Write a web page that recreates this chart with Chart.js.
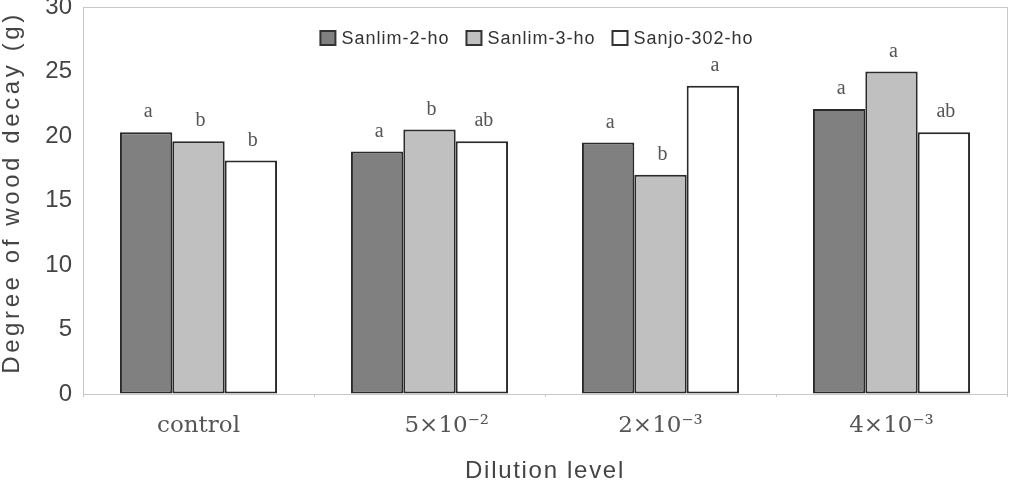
<!DOCTYPE html>
<html><head><meta charset="utf-8">
<script src="https://cdn.jsdelivr.net/npm/chart.js@4"></script>
<style>html,body{margin:0;padding:0;background:#fff}#wrap{width:1016px;height:480px}</style>
</head><body><div id="wrap"><canvas id="c" width="1016" height="480"></canvas></div>
<script>
const categories = ['control', '5×10⁻²', '2×10⁻³', '4×10⁻³'];
const seriesNames = ['Sanlim-2-ho', 'Sanlim-3-ho', 'Sanjo-302-ho'];
const sanlim2 = [20.3, 18.8, 19.5, 22.1];
const sanlim3 = [19.6, 20.5, 17.0, 25.0];
const sanjo302 = [18.1, 19.6, 23.9, 20.3];
const letters2 = ['a', 'a', 'a', 'a'];
const letters3 = ['b', 'b', 'b', 'a'];
const lettersSanjo = ['b', 'ab', 'a', 'ab'];
const yMin = 0, yMax = 30, yStep = 5;
const xTitle = 'Dilution level';
const yTitle = 'Degree of wood decay (g)';

const fills = ['#808080', '#c0c0c0', '#ffffff'];
const letterSets = [letters2, letters3, lettersSanjo];
// leading spacing to mimic the reference's off-centre tick label
const tickLead = ['', '\u2002\u2002\u2002', '', ''];

const titleStyle = { x: { ls: '1.7px', dy: 0 }, y: { ls: '3.6px', dy: -8 } };

const framePlugin = {
  id: 'frame',
  afterLayout(chart) {
    for (const id of ['x', 'y']) {
      const s = chart.scales[id];
      if (s && !s._lsWrapped) {
        const orig = s.drawTitle.bind(s);
        s.drawTitle = function () {
          const ctx = this.ctx;
          ctx.save();
          ctx.letterSpacing = titleStyle[id].ls;
          ctx.translate(0, titleStyle[id].dy);
          orig();
          ctx.restore();
        };
        s._lsWrapped = true;
      }
    }
  },
  beforeDatasetsDraw(chart) {
    const { ctx, chartArea: a } = chart;
    ctx.save();
    ctx.strokeStyle = '#c8c8c8';
    ctx.lineWidth = 1;
    ctx.strokeRect(Math.round(a.left) + 0.5, Math.round(a.top) + 0.5, Math.round(a.width), Math.round(a.height));
    ctx.restore();
  },
  afterDatasetsDraw(chart) {
    const { ctx } = chart;
    ctx.save();
    ctx.font = '20px "Liberation Serif", serif';
    ctx.fillStyle = '#555';
    ctx.textAlign = 'center';
    ctx.textBaseline = 'middle';
    chart.data.datasets.forEach((ds, di) => {
      const meta = chart.getDatasetMeta(di);
      meta.data.forEach((el, i) => {
        ctx.fillText(letterSets[di][i], el.x + 2, el.y - 20);
      });
    });
    ctx.restore();
  },
  afterDraw(chart) {
    const { ctx, chartArea: a } = chart;
    ctx.save();
    ctx.font = '18px "Liberation Sans", Arial, sans-serif';
    ctx.letterSpacing = '1px';
    ctx.textBaseline = 'middle';
    const bw = 15, bh = 14, gap = 6, spacing = 17;
    const widths = chart.data.datasets.map(ds => ctx.measureText(ds.label).width);
    const total = widths.reduce((s, w) => s + bw + gap + w, 0) + spacing * (widths.length - 1);
    let x = a.left + (a.width - total) / 2 - 8;
    const cy = a.top + 31;
    chart.data.datasets.forEach((ds, i) => {
      ctx.fillStyle = ds.backgroundColor;
      ctx.fillRect(x, cy - bh / 2, bw, bh);
      ctx.strokeStyle = '#333';
      ctx.lineWidth = 2;
      ctx.strokeRect(x, cy - bh / 2, bw, bh);
      ctx.fillStyle = '#333';
      ctx.textAlign = 'left';
      ctx.fillText(ds.label, x + bw + gap, cy + 1);
      x += bw + gap + widths[i] + spacing;
    });
    ctx.restore();
  }
};

new Chart(document.getElementById('c'), {
  type: 'bar',
  data: {
    labels: categories,
    datasets: [sanlim2, sanlim3, sanjo302].map((vals, i) => ({
      label: seriesNames[i],
      data: vals,
      backgroundColor: fills[i],
      borderColor: '#2a2a2a',
      borderWidth: 2,
      borderSkipped: false,
      categoryPercentage: 0.68,
      barPercentage: 1.0
    }))
  },
  options: {
    responsive: false,
    animation: false,
    layout: { padding: { top: 7, right: 9, left: 0, bottom: 0 } },
    plugins: { legend: { display: false }, tooltip: { enabled: false } },
    scales: {
      x: {
        grid: { display: true, drawOnChartArea: false, drawTicks: true, tickLength: 3, color: '#c8c8c8', offset: true },
        border: { color: '#c8c8c8' },
        ticks: {
          color: '#555', padding: 15,
          font: { family: '"DejaVu Serif", serif', size: 23 },
          callback(v, i) { return tickLead[i] + this.getLabelForValue(v); }
        },
        title: { display: true, text: xTitle, color: '#444', padding: 0, font: { family: '"Liberation Sans", Arial, sans-serif', size: 24, lineHeight: 0.7 } },
        afterFit(s) { s.height = 86; }
      },
      y: {
        min: yMin, max: yMax,
        grid: { drawOnChartArea: false, drawTicks: true, tickLength: 11, tickColor: 'rgba(0,0,0,0)' },
        border: { color: '#c8c8c8' },
        ticks: { stepSize: yStep, color: '#444', padding: 0, font: { family: '"Liberation Sans", Arial, sans-serif', size: 24, lineHeight: 0.5 } },
        title: { display: true, text: yTitle, color: '#444', padding: 0, font: { family: '"Liberation Sans", Arial, sans-serif', size: 24, lineHeight: 1.0 } },
        afterFit(s) { s.width = 83; }
      }
    }
  },
  plugins: [framePlugin]
});
</script>
</body></html>
